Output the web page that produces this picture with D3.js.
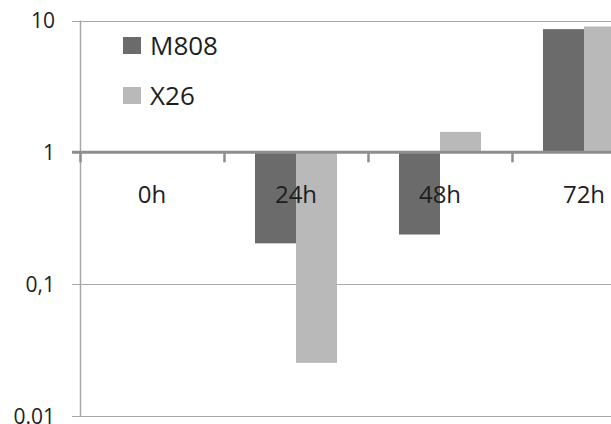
<!DOCTYPE html>
<html>
<head>
<meta charset="utf-8">
<script src="https://cdn.jsdelivr.net/npm/d3@7"></script>
<style>
  body { margin: 0; background: #fff; }
  text { font-family: "Open Sans", sans-serif; fill: #1e1e1e; }
</style>
</head>
<body>
<div id="chart"></div>
<script>
// Data
const categories = ["0h", "24h", "48h", "72h"];
const seriesNames = ["M808", "X26"];
const m808 = [1, 0.204, 0.238, 8.6];
const x26 = [1, 0.0253, 1.43, 9.0];
const tickValues = [0.01, 0.1, 1, 10];
const tickLabels = ["0.01", "0,1", "1", "10"];

const colors = ["#6b6b6b", "#b9b9b9"];
const width = 611, height = 424;

const svg = d3.select("#chart").append("svg")
    .attr("width", width)
    .attr("height", height);

// Scales
const y = d3.scaleLog()
    .domain([0.01, 10])
    .range([416, 20.5]);

const x0 = d3.scaleBand()
    .domain(categories)
    .range([80, 656]);

const x1 = d3.scaleBand()
    .domain(seriesNames)
    .range([0, x0.bandwidth()])
    .paddingInner(0)
    .paddingOuter(0.756);

// Horizontal gridlines
svg.append("g")
    .selectAll("line")
    .data(tickValues.filter(v => v !== 1))
    .enter().append("line")
    .attr("x1", 72)
    .attr("x2", width)
    .attr("y1", d => Math.round(y(d)) + 0.5)
    .attr("y2", d => Math.round(y(d)) + 0.5)
    .attr("stroke", "#a8a8a8")
    .attr("stroke-width", 1.2);

// Vertical axis line
svg.append("line")
    .attr("x1", 80.5).attr("x2", 80.5)
    .attr("y1", y(10)).attr("y2", y(0.01))
    .attr("stroke", "#a8a8a8")
    .attr("stroke-width", 1.5);

// Y tick labels
svg.append("g")
    .selectAll("text")
    .data(tickValues)
    .enter().append("text")
    .attr("x", 55)
    .attr("y", d => y(d))
    .attr("dy", "0.36em")
    .attr("text-anchor", "end")
    .style("font-size", "21px")
    .text((d, i) => tickLabels[i]);

// Bars, drawn from the value 1 baseline
const table = categories.map((c, i) => ({ cat: c, values: [m808[i], x26[i]] }));

const groups = svg.selectAll("g.bar-group")
    .data(table)
    .enter().append("g")
    .attr("class", "bar-group")
    .attr("transform", d => `translate(${x0(d.cat)},0)`);

groups.selectAll("rect")
    .data(d => d.values.map((v, i) => ({ name: seriesNames[i], value: v, color: colors[i] })))
    .enter().append("rect")
    .attr("x", d => x1(d.name))
    .attr("width", x1.bandwidth())
    .attr("y", d => Math.min(y(d.value), y(1)))
    .attr("height", d => Math.abs(y(d.value) - y(1)))
    .attr("fill", d => d.color);

// Baseline at 1 with category ticks
svg.append("line")
    .attr("x1", 72).attr("x2", width)
    .attr("y1", y(1)).attr("y2", y(1))
    .attr("stroke", "#8e8e8e")
    .attr("stroke-width", 3);

svg.append("g")
    .selectAll("line")
    .data(categories)
    .enter().append("line")
    .attr("x1", d => x0(d) + 0.5)
    .attr("x2", d => x0(d) + 0.5)
    .attr("y1", y(1))
    .attr("y2", y(1) + 10)
    .attr("stroke", "#8e8e8e")
    .attr("stroke-width", 2.5);

// Category labels
svg.append("g")
    .selectAll("text")
    .data(categories)
    .enter().append("text")
    .attr("x", d => x0(d) + x0.bandwidth() / 2)
    .attr("y", 203)
    .attr("text-anchor", "middle")
    .style("font-size", "24px")
    .text(d => d);

// Legend
const legend = svg.append("g")
    .attr("transform", "translate(123,37)");

seriesNames.forEach((name, i) => {
    legend.append("rect")
        .attr("x", 0)
        .attr("y", 50 * i)
        .attr("width", 18)
        .attr("height", 17)
        .attr("fill", colors[i]);

    legend.append("text")
        .attr("x", 27)
        .attr("y", 50 * i + 18)
        .style("font-size", "26px")
        .text(name);
});
</script>
</body>
</html>
